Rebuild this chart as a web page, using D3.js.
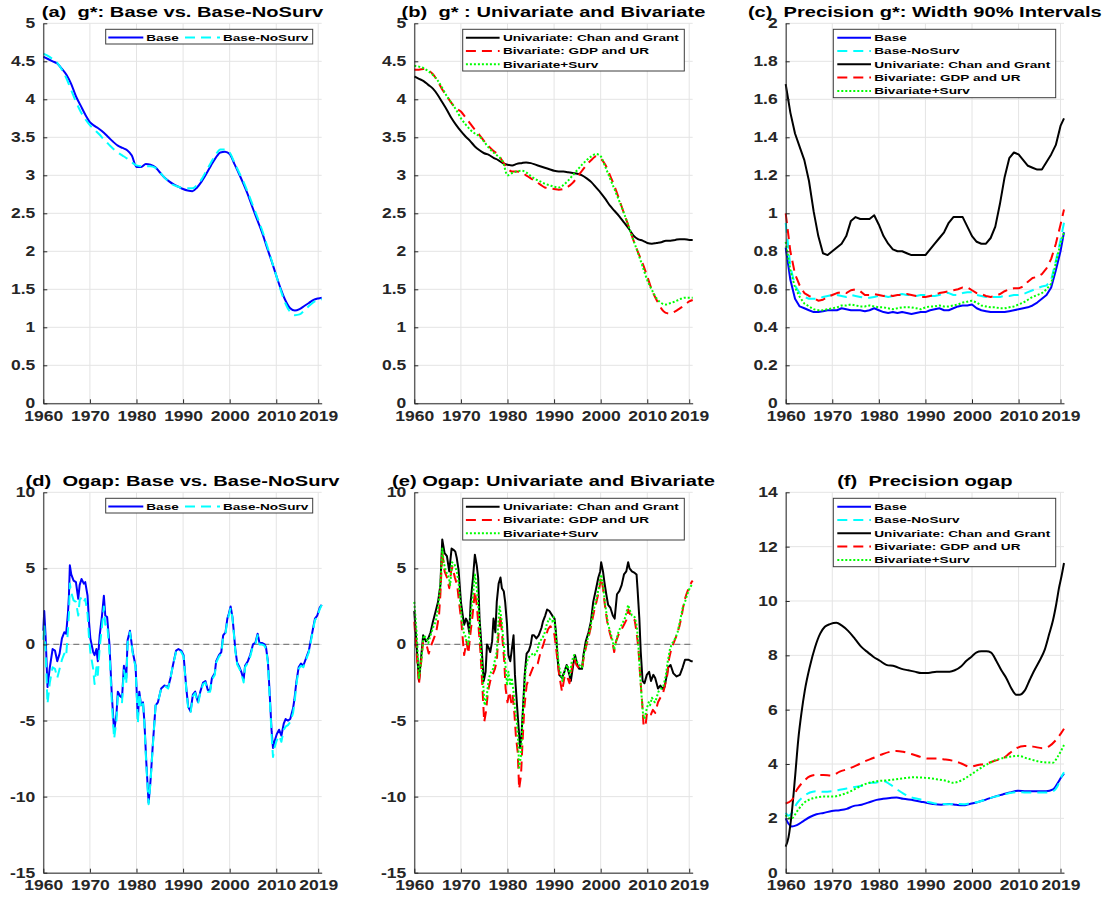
<!DOCTYPE html>
<html><head><meta charset="utf-8">
<script src="https://cdn.jsdelivr.net/npm/d3@7"></script>
<style>
body{margin:0;background:#fff;}
svg text{font-family:"Liberation Sans",Arial,Helvetica,sans-serif;font-weight:bold;white-space:pre;}
</style></head><body>
<svg id="chart" width="1113" height="898"></svg>
<script>
// ---------------- DATA ----------------
const titles = ["(a)  g*: Base vs. Base-NoSurv","(b)  g* : Univariate and Bivariate","(c)  Precision g*: Width 90% Intervals",
                "(d)  Ogap: Base vs. Base-NoSurv","(e) Ogap: Univariate and Bivariate","(f)  Precision ogap"];
const xTickVals = [1960,1970,1980,1990,2000,2010,2019];
const yTicksG = [0,0.5,1,1.5,2,2.5,3,3.5,4,4.5,5];
const yTicksW = [0,0.2,0.4,0.6,0.8,1,1.2,1.4,1.6,1.8,2];
const yTicksGap = [-15,-10,-5,0,5,10];
const yTicksPrec = [0,2,4,6,8,10,12,14];

const gYears = [1960,1961,1962,1963,1964,1965,1966,1967,1968,1969,1970,1971,1972,1973,1974,1975,1976,1977,1978,1979,
  1980,1981,1982,1983,1984,1985,1986,1987,1988,1989,1990,1991,1992,1993,1994,1995,1996,1997,1998,1999,
  2000,2001,2002,2003,2004,2005,2006,2007,2008,2009,2010,2011,2012,2013,2014,2015,2016,2017,2018,2019,2019.75];

// g*: Base / Base-NoSurv
const gBase = [4.56,4.53,4.50,4.47,4.40,4.32,4.20,4.04,3.92,3.80,3.70,
  3.65,3.61,3.56,3.50,3.44,3.39,3.36,3.33,3.26,3.11,
  3.11,3.15,3.14,3.11,3.04,2.97,2.92,2.88,2.85,2.82,
  2.80,2.79,2.84,2.92,3.02,3.13,3.23,3.30,3.31,3.28,
  3.15,3.02,2.88,2.73,2.56,2.40,2.24,2.05,1.87,1.68,
  1.50,1.35,1.25,1.22,1.24,1.28,1.32,1.36,1.38,1.39];
const gNoSurv = [4.60,4.57,4.53,4.48,4.39,4.27,4.12,3.97,3.84,3.74,3.66,
  3.60,3.54,3.47,3.41,3.35,3.30,3.26,3.22,3.17,3.13,
  3.12,3.12,3.12,3.10,3.04,2.97,2.91,2.87,2.85,2.83,
  2.83,2.83,2.87,2.95,3.06,3.17,3.27,3.34,3.34,3.30,
  3.17,3.04,2.91,2.76,2.60,2.44,2.27,2.08,1.88,1.68,
  1.48,1.31,1.20,1.16,1.17,1.22,1.28,1.33,1.36,1.37];
// g*: Univariate / Bivariate / Bivariate+Surv
const gUni = [4.30,4.27,4.24,4.19,4.14,4.06,3.96,3.86,3.75,3.66,3.58,
  3.51,3.45,3.38,3.33,3.29,3.27,3.23,3.20,3.16,3.14,
  3.13,3.15,3.16,3.17,3.16,3.14,3.12,3.10,3.08,3.06,
  3.05,3.05,3.04,3.03,3.02,3.00,2.96,2.91,2.84,2.77,
  2.69,2.60,2.53,2.46,2.38,2.30,2.21,2.16,2.14,2.11,
  2.10,2.11,2.12,2.14,2.14,2.15,2.16,2.16,2.15,2.15];
const gBiv = [4.39,4.39,4.40,4.38,4.33,4.24,4.13,4.04,3.95,3.88,3.84,
  3.76,3.68,3.60,3.53,3.45,3.38,3.32,3.27,3.18,3.09,
  3.05,3.05,3.04,3.00,2.96,2.92,2.88,2.84,2.83,2.82,
  2.81,2.82,2.85,2.90,2.98,3.06,3.14,3.20,3.25,3.22,
  3.14,3.00,2.85,2.68,2.50,2.33,2.15,1.99,1.84,1.67,
  1.49,1.36,1.25,1.19,1.18,1.21,1.25,1.29,1.34,1.36];
const gBivSurv = [4.44,4.43,4.41,4.37,4.32,4.25,4.15,4.04,3.95,3.86,3.75,
  3.67,3.60,3.55,3.51,3.44,3.36,3.30,3.25,3.18,3.00,
  3.03,3.05,3.06,3.04,2.99,2.95,2.92,2.89,2.87,2.85,
  2.84,2.87,2.93,3.00,3.07,3.14,3.20,3.25,3.28,3.25,
  3.11,2.96,2.81,2.66,2.50,2.33,2.15,1.98,1.80,1.62,
  1.49,1.38,1.32,1.30,1.32,1.34,1.37,1.39,1.39,1.39];

// Width of 90% intervals for g*
const wBase = [0.82,0.65,0.55,0.51,0.50,0.49,0.48,0.48,0.485,0.49,0.49,
  0.49,0.50,0.495,0.49,0.49,0.49,0.485,0.49,0.50,0.49,
  0.48,0.475,0.48,0.475,0.48,0.475,0.47,0.475,0.48,0.48,
  0.49,0.495,0.50,0.49,0.49,0.50,0.51,0.515,0.515,0.52,
  0.50,0.49,0.485,0.48,0.48,0.48,0.48,0.485,0.49,0.495,
  0.50,0.505,0.515,0.53,0.55,0.57,0.61,0.70,0.80,0.90];
const wNoSurv = [0.95,0.72,0.62,0.58,0.56,0.55,0.55,0.55,0.56,0.565,0.57,
  0.57,0.565,0.56,0.57,0.565,0.56,0.555,0.555,0.56,0.565,
  0.565,0.56,0.565,0.57,0.575,0.57,0.57,0.565,0.57,0.57,
  0.565,0.565,0.57,0.58,0.58,0.57,0.57,0.58,0.585,0.585,
  0.57,0.565,0.56,0.56,0.56,0.56,0.565,0.565,0.57,0.57,
  0.575,0.585,0.595,0.605,0.615,0.62,0.65,0.75,0.86,0.95];
const wUni = [1.68,1.53,1.42,1.35,1.28,1.17,1.01,0.88,0.79,0.78,0.80,
  0.82,0.84,0.88,0.96,0.98,0.97,0.97,0.97,0.99,0.94,
  0.88,0.84,0.81,0.80,0.80,0.79,0.78,0.78,0.78,0.78,
  0.81,0.84,0.87,0.90,0.95,0.98,0.98,0.98,0.93,0.88,
  0.85,0.84,0.84,0.87,0.93,1.05,1.19,1.29,1.32,1.31,
  1.28,1.25,1.24,1.23,1.23,1.27,1.31,1.36,1.46,1.50];
const wBiv = [1.00,0.80,0.68,0.62,0.58,0.565,0.555,0.54,0.545,0.56,0.57,
  0.58,0.585,0.58,0.595,0.60,0.59,0.57,0.57,0.575,0.57,
  0.565,0.57,0.565,0.57,0.57,0.575,0.57,0.565,0.56,0.56,
  0.565,0.57,0.58,0.585,0.59,0.595,0.60,0.61,0.61,0.595,
  0.58,0.575,0.565,0.56,0.565,0.575,0.59,0.60,0.605,0.605,
  0.615,0.64,0.66,0.665,0.68,0.71,0.76,0.84,0.94,1.02];
const wBivSurv = [0.85,0.70,0.61,0.56,0.525,0.51,0.495,0.49,0.49,0.495,0.50,
  0.505,0.515,0.515,0.52,0.515,0.51,0.51,0.515,0.51,0.505,
  0.505,0.50,0.495,0.50,0.505,0.505,0.505,0.50,0.495,0.505,
  0.51,0.51,0.515,0.51,0.51,0.515,0.52,0.53,0.535,0.54,
  0.53,0.515,0.51,0.505,0.505,0.50,0.50,0.505,0.51,0.52,
  0.53,0.545,0.56,0.57,0.58,0.60,0.63,0.74,0.84,0.90];

// Output gap: [year, value]
const ogBase = [[1960,0.9],[1960.2,2.2],[1960.5,0.5],[1960.9,-2.8],[1961.4,-1.5],[1962,-0.3],[1962.5,-0.4],[1963,-1.1],[1963.5,-0.6],[1964,0.4],[1964.5,0.8],[1964.9,0.7],[1965.3,2.1],[1965.5,3.2],[1965.7,5.2],[1966,4.6],[1966.5,4.2],[1967,4.1],[1967.5,3.0],[1967.8,3.9],[1968.2,4.3],[1968.7,4.0],[1969,4.1],[1969.5,3.2],[1969.8,1.5],[1970.1,0.4],[1970.7,-0.5],[1971,-0.7],[1971.4,-0.3],[1971.7,-1.1],[1972.1,0.6],[1972.6,1.9],[1973,3.2],[1973.3,1.9],[1973.7,1.8],[1974.2,0],[1974.7,-3.3],[1975.2,-5.7],[1975.7,-4.6],[1976,-3.1],[1976.5,-3.4],[1976.9,-3.5],[1977.3,-1.4],[1977.8,-2.2],[1978.1,0.3],[1978.6,0.9],[1979.2,-0.5],[1979.8,-1.4],[1980.3,-4.9],[1980.6,-3.1],[1981,-4.0],[1981.4,-3.8],[1981.7,-5.1],[1982.1,-7.7],[1982.6,-10.4],[1983,-9.0],[1983.5,-6.6],[1984.1,-4.0],[1984.6,-3.8],[1985.3,-2.9],[1986,-2.7],[1986.8,-2.8],[1987.3,-2.2],[1987.8,-1.4],[1988.5,-0.4],[1989,-0.3],[1989.6,-0.4],[1990.1,-0.7],[1990.7,-2.9],[1991.1,-4.1],[1991.6,-4.4],[1992.1,-3.3],[1992.6,-3.1],[1993.2,-3.8],[1993.7,-3.1],[1994.3,-2.5],[1994.8,-2.4],[1995.3,-3.0],[1995.8,-3.0],[1996.2,-2.2],[1996.8,-1.9],[1997.1,-1.1],[1997.7,-0.7],[1998.2,-0.5],[1998.6,0.6],[1999.1,0.8],[1999.5,1.7],[1999.8,2.0],[2000.2,2.5],[2000.6,1.8],[2000.9,0.8],[2001.2,-0.3],[2001.6,-1.2],[2002.1,-1.5],[2002.5,-1.8],[2003,-2.3],[2003.3,-1.4],[2003.9,-1.1],[2004.4,-0.7],[2005,0],[2005.5,0.1],[2006,0.7],[2006.4,0.1],[2006.9,0.1],[2007.5,0],[2007.8,-0.2],[2008.2,-1.1],[2008.6,-3.3],[2009,-5.7],[2009.3,-6.8],[2009.6,-6.4],[2010.1,-5.9],[2010.6,-5.6],[2011.1,-6.0],[2011.6,-5.2],[2012,-4.9],[2012.5,-5.0],[2013,-4.9],[2013.6,-4.2],[2013.9,-3.6],[2014.3,-2.5],[2014.8,-1.5],[2015.3,-1.25],[2015.8,-1.4],[2016.4,-0.9],[2017,-0.4],[2017.3,0.1],[2017.8,0.9],[2018.3,1.7],[2018.8,1.9],[2019.3,2.4],[2019.75,2.6]];
const ogNoSurv = [[1960,0.3],[1960.2,1.3],[1960.5,-0.5],[1960.9,-3.9],[1961.4,-2.5],[1962,-1.5],[1962.5,-1.6],[1963,-2.2],[1963.5,-1.6],[1964,-1.0],[1964.5,-0.6],[1964.9,-0.8],[1965.3,1.0],[1965.5,2.0],[1965.7,4.0],[1966,3.4],[1966.5,2.9],[1967,2.8],[1967.5,1.9],[1967.8,2.9],[1968.2,3.1],[1968.7,2.8],[1969,3.0],[1969.5,2.0],[1969.8,0.5],[1970.1,-0.5],[1970.7,-1.6],[1971,-2.6],[1971.4,-1.5],[1971.7,-2.0],[1972.1,-0.2],[1972.6,1.2],[1973,2.5],[1973.3,1.3],[1973.7,1.4],[1974.2,-0.5],[1974.7,-3.8],[1975.2,-6.2],[1975.7,-5.0],[1976,-3.4],[1976.5,-3.7],[1976.9,-3.8],[1977.3,-1.7],[1977.8,-2.6],[1978.1,0.1],[1978.6,0.8],[1979.2,-0.6],[1979.8,-1.5],[1980.3,-5.2],[1980.6,-3.2],[1981,-4.2],[1981.4,-3.9],[1981.7,-5.2],[1982.1,-7.9],[1982.6,-10.5],[1983,-9.1],[1983.5,-6.7],[1984.1,-4.0],[1984.6,-3.8],[1985.3,-2.9],[1986,-2.7],[1986.8,-2.9],[1987.3,-2.2],[1987.8,-1.4],[1988.5,-0.5],[1989,-0.3],[1989.6,-0.5],[1990.1,-0.8],[1990.7,-3.0],[1991.1,-4.2],[1991.6,-4.5],[1992.1,-3.4],[1992.6,-3.2],[1993.2,-3.9],[1993.7,-3.2],[1994.3,-2.6],[1994.8,-2.5],[1995.3,-3.1],[1995.8,-3.1],[1996.2,-2.3],[1996.8,-2.0],[1997.1,-1.2],[1997.7,-0.8],[1998.2,-0.6],[1998.6,0.5],[1999.1,0.7],[1999.5,1.6],[1999.8,1.9],[2000.2,2.4],[2000.6,1.7],[2000.9,0.7],[2001.2,-0.4],[2001.6,-1.3],[2002.1,-1.6],[2002.5,-1.9],[2003,-2.5],[2003.3,-1.5],[2003.9,-1.2],[2004.4,-0.8],[2005,-0.1],[2005.5,0.0],[2006,0.6],[2006.4,0.0],[2006.9,0.0],[2007.5,-0.1],[2007.8,-0.3],[2008.2,-1.2],[2008.6,-3.5],[2009,-6.0],[2009.3,-7.4],[2009.6,-6.8],[2010.1,-6.3],[2010.6,-6.0],[2011.1,-6.4],[2011.6,-5.6],[2012,-5.4],[2012.5,-5.3],[2013,-5.1],[2013.6,-4.5],[2013.9,-3.9],[2014.3,-2.7],[2014.8,-1.6],[2015.3,-1.4],[2015.8,-1.5],[2016.4,-1.0],[2017,-0.5],[2017.3,0.0],[2017.8,0.8],[2018.3,1.6],[2018.8,1.8],[2019.3,2.3],[2019.75,2.6]];
const ogUni = [[1960,2.2],[1961,-2.4],[1961.9,0.6],[1962.5,0.2],[1963,0.4],[1963.5,0.8],[1964,1.5],[1964.6,2.2],[1965.1,2.8],[1965.6,3.9],[1966,6.9],[1966.5,6.0],[1967,5.8],[1967.5,4.8],[1968,6.3],[1968.5,6.2],[1968.8,6.1],[1969.1,5.7],[1969.5,4.9],[1970,2.8],[1970.4,1.9],[1970.7,1.3],[1971.1,1.7],[1971.4,1.5],[1971.8,0.8],[1972.1,2.8],[1972.6,4.4],[1973,5.9],[1973.4,5.2],[1973.7,4.4],[1974,1.7],[1974.4,0],[1974.9,-2.4],[1975.3,-1.8],[1975.6,0],[1976,-0.25],[1976.3,-0.5],[1976.7,0.2],[1977,1.7],[1977.4,0.8],[1977.7,2.8],[1978.1,4.0],[1978.5,4.4],[1978.8,3.7],[1979.2,3.5],[1979.5,2.8],[1979.9,1.3],[1980.2,-0.7],[1980.6,-1.1],[1980.9,-0.4],[1981.3,0.6],[1981.6,-2.0],[1982,-3.8],[1982.3,-5.1],[1982.7,-6.8],[1983,-6.0],[1983.4,-3.8],[1983.7,-2.0],[1984.1,-0.6],[1984.6,-0.4],[1985,0],[1985.3,0.6],[1985.7,0.6],[1986.2,0.4],[1986.7,0.6],[1987.3,1.1],[1987.6,1.5],[1988.1,1.9],[1988.5,2.3],[1989,2.2],[1989.6,1.9],[1990.1,1.7],[1990.4,0.8],[1990.8,-1.1],[1991.1,-2.0],[1991.7,-2.2],[1992.2,-1.8],[1992.7,-1.35],[1993.3,-2.0],[1993.6,-2.4],[1994.1,-1.35],[1994.5,-0.7],[1995,-1.35],[1995.4,-1.6],[1996,-1.6],[1996.3,-0.7],[1996.8,0.2],[1997.4,0.8],[1997.9,1.5],[1998.4,2.8],[1998.9,3.5],[1999.5,4.4],[1999.9,4.8],[2000.1,5.4],[2000.5,4.8],[2000.8,4.1],[2001.2,3.3],[2001.6,2.6],[2002.1,2.4],[2002.6,1.9],[2003,1.7],[2003.5,3.3],[2004,3.5],[2004.5,3.9],[2005,4.6],[2005.5,4.8],[2005.9,5.4],[2006.2,5.0],[2006.7,4.8],[2007.3,4.7],[2007.7,4.6],[2007.9,3.7],[2008.3,1.7],[2008.6,-0.5],[2009,-2.4],[2009.4,-2.55],[2009.9,-2.0],[2010.4,-1.8],[2010.8,-2.4],[2011.3,-2.0],[2011.7,-2.2],[2012.3,-2.9],[2012.8,-2.7],[2013.3,-2.9],[2013.7,-2.8],[2014.2,-2.0],[2014.5,-1.5],[2015,-1.35],[2015.6,-1.9],[2016.3,-2.1],[2017,-2.0],[2017.6,-1.5],[2018.1,-1.0],[2018.8,-1.0],[2019.4,-1.1],[2019.75,-1.1]];
const ogBiv = [[1960,1.5],[1961,-2.6],[1961.9,0.2],[1962.6,0.0],[1963.1,-0.6],[1963.7,0.0],[1964.2,0.4],[1964.7,0.8],[1965.3,1.9],[1965.6,3.3],[1966,6.1],[1966.5,4.8],[1967,4.4],[1967.5,3.7],[1967.9,4.8],[1968.2,5.1],[1968.7,4.4],[1969.2,3.9],[1969.6,2.8],[1970.1,1.5],[1970.5,0],[1970.7,-0.7],[1971.2,0.2],[1971.6,-0.6],[1972,0.6],[1972.5,1.9],[1973,3.5],[1973.4,2.6],[1973.7,1.5],[1974.2,-0.5],[1974.6,-2.7],[1975,-5.1],[1975.4,-4.4],[1975.8,-3.1],[1976.3,-2.4],[1976.8,-2.0],[1977.3,-1.6],[1977.7,-1.1],[1978.1,0.8],[1978.5,1.9],[1978.8,0.8],[1979.3,-1.1],[1979.6,-2.9],[1980,-3.8],[1980.4,-3.1],[1980.8,-3.8],[1981.1,-3.3],[1981.5,-4.6],[1981.8,-6.0],[1982.2,-7.1],[1982.5,-9.5],[1982.9,-8.6],[1983.2,-6.6],[1983.6,-4.2],[1984.1,-2.7],[1984.6,-2.2],[1985.1,-1.8],[1985.7,-1.35],[1986.2,-1.35],[1986.5,-1.25],[1987.1,-0.5],[1987.6,-0.1],[1988.1,0.4],[1988.7,1.0],[1989.2,1.2],[1989.7,1.0],[1990.1,0.6],[1990.6,-0.7],[1991.1,-2.0],[1991.7,-3.1],[1992.2,-2.2],[1992.7,-2.0],[1993.3,-2.55],[1993.8,-1.6],[1994.3,-0.9],[1994.8,-1.35],[1995.4,-1.6],[1996,-1.6],[1996.4,-0.8],[1996.9,-0.1],[1997.5,0.6],[1998,1.3],[1998.6,2.2],[1999.1,2.8],[1999.6,3.5],[2000.1,4.4],[2000.5,3.7],[2000.9,2.6],[2001.4,1.5],[2002,0.7],[2002.5,0.2],[2002.9,-0.5],[2003.3,0.2],[2003.9,0.7],[2004.5,1.0],[2005,1.3],[2005.5,1.6],[2005.9,2.3],[2006.4,1.9],[2006.9,1.7],[2007.3,1.6],[2007.7,0.8],[2008.1,-0.25],[2008.5,-2.2],[2008.9,-3.8],[2009.2,-5.3],[2009.6,-5.4],[2009.9,-4.6],[2010.3,-4.4],[2010.8,-4.6],[2011.2,-4.3],[2011.7,-4.5],[2012.3,-3.8],[2012.8,-3.5],[2013.3,-3.3],[2013.8,-2.7],[2014.3,-2.0],[2014.7,-0.9],[2015.2,-0.25],[2015.8,0.2],[2016.3,0.6],[2016.9,1.2],[2017.4,1.9],[2017.9,2.8],[2018.4,3.3],[2018.9,3.7],[2019.5,4.1],[2019.75,4.2]];
const ogBivSurv = [[1960,2.8],[1960.5,0.8],[1961,-2.2],[1961.5,-1.1],[1962,0.6],[1962.6,0.4],[1963,0.1],[1963.5,0.6],[1964,1.1],[1964.6,1.5],[1965.1,2.4],[1965.6,3.9],[1966,6.3],[1966.3,5.4],[1966.8,4.8],[1967.4,4.4],[1967.7,3.9],[1968.1,5.4],[1968.6,5.3],[1969.1,4.8],[1969.5,4.1],[1969.9,2.6],[1970.2,1.7],[1970.6,0.8],[1970.9,0.6],[1971.2,0.2],[1971.6,0],[1972.1,1.9],[1972.6,3.3],[1973,4.6],[1973.4,3.7],[1973.9,1.9],[1974.2,0],[1974.7,-2.2],[1975.1,-4.0],[1975.5,-3.5],[1976,-2.2],[1976.5,-1.8],[1976.9,-1.6],[1977.4,-0.9],[1977.7,-0.5],[1978.1,1.7],[1978.3,2.5],[1978.7,1.7],[1979.2,0],[1979.5,-1.1],[1979.9,-2.7],[1980.2,-1.8],[1980.6,-2.7],[1980.9,-2.2],[1981.3,-3.1],[1981.6,-4.2],[1982,-5.1],[1982.3,-6.4],[1982.5,-8.1],[1982.9,-7.3],[1983.2,-5.1],[1983.6,-3.1],[1983.9,-1.6],[1984.4,-0.9],[1985,-0.7],[1985.5,-0.6],[1985.8,-0.7],[1986.4,-0.4],[1986.9,0.2],[1987.5,0.4],[1988,0.8],[1988.5,1.4],[1989,1.7],[1989.6,1.5],[1989.9,1.8],[1990.1,1.5],[1990.6,0],[1991,-1.35],[1991.5,-2.0],[1991.8,-2.4],[1992.4,-1.6],[1992.9,-1.35],[1993.4,-2.0],[1993.8,-1.1],[1994.3,-0.7],[1994.8,-1.1],[1995.4,-1.35],[1996,-1.5],[1996.4,-0.7],[1996.9,0],[1997.4,0.6],[1997.9,1.3],[1998.4,2.2],[1998.8,2.6],[1999.3,3.3],[1999.6,3.7],[2000.1,4.6],[2000.5,3.9],[2000.9,2.8],[2001.3,1.9],[2001.6,1.3],[2002.1,0.8],[2002.6,0.2],[2002.9,-0.35],[2003.3,0.2],[2003.8,0.8],[2004.2,1.1],[2004.7,1.4],[2005.3,1.8],[2005.9,2.6],[2006.2,2.3],[2006.7,1.9],[2007.3,1.8],[2007.7,1.3],[2008,0.4],[2008.4,-1.6],[2008.7,-3.1],[2009.1,-4.6],[2009.4,-4.9],[2009.9,-4.2],[2010.3,-3.8],[2010.6,-4.0],[2011,-3.5],[2011.6,-3.8],[2011.9,-3.6],[2012.4,-3.1],[2013,-2.9],[2013.5,-2.7],[2014,-2.0],[2014.4,-1.1],[2014.9,-0.25],[2015.4,0.1],[2016,0.4],[2016.5,0.8],[2017,1.5],[2017.6,2.4],[2018.1,2.8],[2018.6,3.3],[2019.1,3.7],[2019.5,3.9],[2019.75,4.0]];

// Precision of ogap: [year, value]
const pUni = [[1960,0.96],[1960.6,1.3],[1961.3,2.2],[1962,3.5],[1962.7,4.9],[1963.4,5.9],[1964.1,6.7],[1965.2,7.6],[1966.3,8.3],[1967.4,8.8],[1968.4,9.05],[1969.5,9.15],[1970.9,9.2],[1972,9.1],[1973.4,8.9],[1974.9,8.6],[1976.3,8.3],[1977.7,8.1],[1978.8,7.95],[1980.2,7.8],[1981.6,7.65],[1983.4,7.6],[1984.9,7.5],[1986.3,7.45],[1987.7,7.4],[1989.1,7.35],[1990.6,7.35],[1992.4,7.4],[1993.8,7.4],[1995.2,7.4],[1996.3,7.45],[1997.7,7.6],[1998.8,7.8],[1999.9,7.95],[2000.9,8.1],[2002,8.15],[2003.1,8.15],[2004.1,8.1],[2005.2,7.8],[2006.3,7.45],[2007.4,7.15],[2008.4,6.8],[2009.5,6.55],[2010.2,6.55],[2011.3,6.7],[2012.4,7.1],[2013.4,7.45],[2014.5,7.8],[2015.6,8.2],[2016.6,8.8],[2017.4,9.3],[2018.1,9.9],[2018.7,10.5],[2019.2,10.9],[2019.75,11.4]];
const pBase = [[1960,2.0],[1960.6,1.8],[1961.3,1.7],[1962.4,1.75],[1963.8,1.9],[1965.2,2.05],[1966.6,2.15],[1968.1,2.2],[1969.9,2.27],[1971.6,2.3],[1973.1,2.35],[1974.5,2.45],[1976.3,2.5],[1977.7,2.58],[1979.5,2.68],[1980.9,2.72],[1982.4,2.75],[1983.8,2.77],[1985.2,2.72],[1987.4,2.67],[1989.5,2.6],[1991.6,2.53],[1993.4,2.5],[1995.2,2.53],[1996.6,2.5],[1998.1,2.48],[1999.5,2.53],[2001.3,2.6],[2003.1,2.7],[2004.9,2.8],[2006.6,2.88],[2008.1,2.95],[2009.9,3.02],[2011.6,3.0],[2013.8,3.0],[2015.9,3.0],[2017.4,3.07],[2018.4,3.3],[2019.1,3.5],[2019.75,3.65]];
const pNoSurv = [[1960,2.2],[1960.6,2.1],[1961.3,2.2],[1962.4,2.55],[1963.8,2.8],[1965.2,2.95],[1966.6,3.0],[1968.1,2.98],[1969.9,3.0],[1971.6,3.05],[1973.1,3.1],[1974.5,3.15],[1976.3,3.2],[1977.7,3.3],[1979.5,3.32],[1980.9,3.38],[1982.4,3.25],[1983.8,3.08],[1985.2,2.92],[1987,2.77],[1988.8,2.7],[1990.6,2.6],[1992,2.55],[1993.8,2.53],[1995.2,2.52],[1996.6,2.53],[1998.1,2.52],[1999.5,2.55],[2001.3,2.6],[2003.1,2.7],[2004.9,2.8],[2006.6,2.87],[2008.1,2.93],[2009.9,2.97],[2011.6,2.95],[2013.8,2.95],[2015.9,2.95],[2017.4,3.0],[2018.4,3.2],[2019.1,3.5],[2019.75,3.7]];
const pBiv = [[1960,2.55],[1961.3,2.67],[1962.4,3.05],[1963.8,3.35],[1965.2,3.55],[1966.6,3.6],[1968.1,3.6],[1969.9,3.58],[1971.6,3.72],[1973.4,3.82],[1975.2,3.95],[1977,4.1],[1978.8,4.22],[1980.6,4.35],[1982.4,4.45],[1983.8,4.48],[1985.2,4.45],[1987,4.37],[1988.8,4.27],[1990.6,4.2],[1992.4,4.2],[1994.1,4.17],[1995.9,4.12],[1997.7,4.02],[1999.5,3.9],[2001.3,3.96],[2003.1,4.02],[2004.9,4.12],[2006.6,4.2],[2008.1,4.4],[2009.5,4.58],[2011.3,4.66],[2013.1,4.64],[2015.2,4.58],[2016.6,4.66],[2018.1,4.9],[2019.1,5.13],[2019.75,5.3]];
const pBivSurv = [[1960,2.12],[1960.6,2.0],[1961.3,2.0],[1962.4,2.25],[1963.8,2.55],[1965.9,2.74],[1968.1,2.8],[1970.2,2.8],[1972,2.87],[1974,3.0],[1976.6,3.23],[1979,3.35],[1982.4,3.41],[1985,3.47],[1987.4,3.51],[1990,3.49],[1992.4,3.44],[1994.5,3.38],[1995.9,3.31],[1998,3.42],[2000.2,3.66],[2002.5,3.92],[2005.2,4.15],[2007.5,4.25],[2009.9,4.3],[2012,4.2],[2014.5,4.09],[2017.4,4.05],[2018.4,4.27],[2019.75,4.7]];

const names = {base:"Base", nosurv:"Base-NoSurv", uni:"Univariate: Chan and Grant", biv:"Bivariate: GDP and UR", bivsurv:"Bivariate+Surv"};

// ---------------- STYLES ----------------
const st = {
  base:{color:"#0000ff", dash:null, width:2},
  nosurv:{color:"#00ffff", dash:"10,6", width:2},
  uni:{color:"#000000", dash:null, width:2},
  biv:{color:"#ff0000", dash:"10,6", width:2},
  bivsurv:{color:"#00ff00", dash:"2,2", width:2}
};
const pairs = arr => gYears.map((yr,i)=>[yr,arr[i]]);

const svg = d3.select("#chart");
const X_DOMAIN = [1960, 2019.75];
const GRID = "#e4e4e4", AX = "#262626";

function drawPanel(cfg){
  const g = svg.append("g");
  const x = d3.scaleLinear().domain(X_DOMAIN).range([cfg.x0, cfg.x1]);
  const y = d3.scaleLinear().domain(cfg.ydom).range([cfg.y1, cfg.y0]);
  g.append("g").selectAll("line").data(xTickVals).join("line")
    .attr("x1",d=>x(d)).attr("x2",d=>x(d)).attr("y1",cfg.y0).attr("y2",cfg.y1)
    .attr("stroke",GRID).attr("stroke-width",1);
  g.append("g").selectAll("line").data(cfg.yticks).join("line")
    .attr("x1",cfg.x0).attr("x2",cfg.x1).attr("y1",d=>y(d)).attr("y2",d=>y(d))
    .attr("stroke",GRID).attr("stroke-width",1);
  if(cfg.zero){
    g.append("line").attr("x1",cfg.x0).attr("x2",cfg.x1).attr("y1",y(0)).attr("y2",y(0))
      .attr("stroke","#808080").attr("stroke-width",1.2).attr("stroke-dasharray","6,4");
  }
  cfg.series.forEach(s=>{
    const line = d3.line().x(d=>x(d[0])).y(d=>y(d[1])).curve(cfg.curve || d3.curveLinear);
    const sty = st[s.key];
    g.append("path").attr("d", line(s.data)).attr("fill","none")
      .attr("stroke", sty.color).attr("stroke-width", sty.width)
      .attr("stroke-dasharray", sty.dash).attr("stroke-linejoin","round");
  });
  const ax = g.append("g").attr("transform",`translate(0,${cfg.y1})`)
    .call(d3.axisBottom(x).tickValues(xTickVals).tickFormat(d=>String(d)).tickSizeInner(-4).tickSizeOuter(0).tickPadding(7.5));
  const ay = g.append("g").attr("transform",`translate(${cfg.x0},0)`)
    .call(d3.axisLeft(y).tickValues(cfg.yticks).tickFormat(d=>String(d)).tickSizeInner(-4).tickSizeOuter(0).tickPadding(8));
  [ax, ay].forEach(a=>{
    a.select(".domain").attr("stroke",AX);
    a.selectAll(".tick line").attr("stroke",AX);
    a.selectAll("text").attr("font-size",14).attr("fill",AX).attr("data-stretch",1.25);
  });
  g.append("text").attr("x",(cfg.x0+cfg.x1)/2).attr("y",cfg.y0-6).attr("text-anchor","middle")
    .attr("font-size",15).attr("fill","#000").attr("data-stretch",1.34).text(cfg.title);

  // legend
  const L = g.append("g");
  const lg = cfg.legend;
  L.append("rect").attr("x",cfg.x0+lg.bx0).attr("y",cfg.y0+6).attr("width",lg.bx1-lg.bx0).attr("height",lg.h)
    .attr("fill","#fff").attr("stroke","#3c3c3c").attr("stroke-width",1);
  lg.items.forEach((k,i)=>{
    let lx0, lx1, ty, tx;
    if(lg.row){
      lx0 = cfg.x0 + lg.rowPos[i]; lx1 = lx0 + 35; ty = cfg.y0 + 14.2; tx = lx1 + 3;
    } else {
      lx0 = cfg.x0 + 51.6; lx1 = cfg.x0 + 85.3; ty = cfg.y0 + 14.4 + i*13.3; tx = cfg.x0 + 88.6;
    }
    const sty = st[k];
    L.append("line").attr("x1",lx0).attr("x2",lx1).attr("y1",ty).attr("y2",ty)
      .attr("stroke",sty.color).attr("stroke-width",sty.width).attr("stroke-dasharray",sty.dash);
    L.append("text").attr("x",tx).attr("y",ty).attr("dy","0.35em").attr("font-size",9.5)
      .attr("fill","#000").attr("data-stretch",1.43).text(names[k]);
  });
}

const top0 = 23.3, top1 = 403.3, bot0 = 492.3, bot1 = 872.7;
const colX = [[43.3,321.7],[414.3,692.7],[785.7,1064]];
const legRow = {row:true, bx0:62.4, bx1:269.4, h:14.7, rowPos:[65, 141.7]};
const leg3 = items => ({row:false, bx0:48.4, bx1:270, h:41.7, items});
const leg5 = items => ({row:false, bx0:47.6, bx1:270, h:68.4, items});
const all5 = ["base","nosurv","uni","biv","bivsurv"];

drawPanel({x0:colX[0][0],x1:colX[0][1],y0:top0,y1:top1,ydom:[0,5],yticks:yTicksG,title:titles[0],curve:d3.curveMonotoneX,
  series:[{key:"base",data:pairs(gBase)},{key:"nosurv",data:pairs(gNoSurv)}],
  legend:Object.assign({items:["base","nosurv"]},legRow)});
drawPanel({x0:colX[1][0],x1:colX[1][1],y0:top0,y1:top1,ydom:[0,5],yticks:yTicksG,title:titles[1],curve:d3.curveMonotoneX,
  series:[{key:"uni",data:pairs(gUni)},{key:"biv",data:pairs(gBiv)},{key:"bivsurv",data:pairs(gBivSurv)}],
  legend:leg3(["uni","biv","bivsurv"])});
drawPanel({x0:colX[2][0],x1:colX[2][1],y0:top0,y1:top1,ydom:[0,2],yticks:yTicksW,title:titles[2],
  series:[{key:"base",data:pairs(wBase)},{key:"nosurv",data:pairs(wNoSurv)},{key:"uni",data:pairs(wUni)},{key:"biv",data:pairs(wBiv)},{key:"bivsurv",data:pairs(wBivSurv)}],
  legend:leg5(all5)});
drawPanel({x0:colX[0][0],x1:colX[0][1],y0:bot0,y1:bot1,ydom:[-15,10],yticks:yTicksGap,title:titles[3],zero:true,
  series:[{key:"base",data:ogBase},{key:"nosurv",data:ogNoSurv}],
  legend:Object.assign({items:["base","nosurv"]},legRow)});
drawPanel({x0:colX[1][0],x1:colX[1][1],y0:bot0,y1:bot1,ydom:[-15,10],yticks:yTicksGap,title:titles[4],zero:true,
  series:[{key:"uni",data:ogUni},{key:"biv",data:ogBiv},{key:"bivsurv",data:ogBivSurv}],
  legend:leg3(["uni","biv","bivsurv"])});
drawPanel({x0:colX[2][0],x1:colX[2][1],y0:bot0,y1:bot1,ydom:[0,14],yticks:yTicksPrec,title:titles[5],curve:d3.curveMonotoneX,
  series:[{key:"base",data:pBase},{key:"nosurv",data:pNoSurv},{key:"uni",data:pUni},{key:"biv",data:pBiv},{key:"bivsurv",data:pBivSurv}],
  legend:leg5(all5)});

// horizontal stretch of text to match the reference's wide lettering
svg.selectAll("text").each(function(){
  const f = +this.getAttribute("data-stretch");
  if(f){
    const w = this.getComputedTextLength();
    this.setAttribute("textLength", (w*f).toFixed(1));
    this.setAttribute("lengthAdjust","spacingAndGlyphs");
  }
});
</script>
</body></html>
